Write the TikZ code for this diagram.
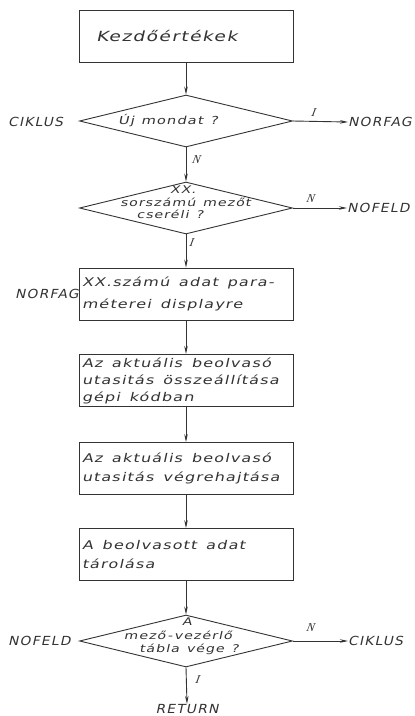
\documentclass[tikz,border=0pt]{standalone}
\usepackage{fontspec}
\setmainfont{DejaVu Sans}[FakeSlant=0.22, FakeStretch=1.33, LetterSpace=10]
\newfontfamily\labelfont{DejaVu Sans}[FakeSlant=0.22, FakeStretch=1.1, LetterSpace=10]
\newfontfamily\serifletter{Liberation Serif}[FakeSlant=0.2]
\usetikzlibrary{shapes.geometric, arrows.meta}

\definecolor{ink}{HTML}{333333}

% one unbreakable line of lettering
\newcommand\letterline[1]{\mbox{#1}}

\tikzset{
  every node/.style={text=ink, font=\fontsize{12}{17}\selectfont},
  flowline/.style={draw=ink, line width=0.9pt},
  flowarrow/.style={flowline, -{Stealth[length=8pt, width=3.5pt]}},
  procbox/.style={draw=ink, line width=0.9pt, rectangle, minimum width=214pt,
    minimum height=52pt, text width=208pt, inner sep=3pt, align=left,
    execute at begin node={\spaceskip=9pt plus 2pt minus 1pt\relax}},
  decision/.style={draw=ink, line width=0.9pt, diamond, minimum width=213pt,
    minimum height=52pt, inner sep=0pt},
  dectext/.style={inner sep=0pt, font=\fontsize{10.6}{12}\selectfont,
    execute at begin node={\spaceskip=7pt plus 2pt minus 1pt\relax}},
  tag/.style={inner sep=0pt, font=\labelfont\fontsize{12.5}{12.5}\selectfont},
  branch/.style={inner sep=0pt, font=\serifletter\itshape\fontsize{12}{12}\selectfont},
}

\begin{document}
\begin{tikzpicture}[x=1pt, y=-1pt]
  \useasboundingbox[fill=white] (0,0) rectangle (415,716);

  % boxes and decisions of the main flow
  \node[procbox, font=\fontsize{14}{17}\selectfont] (start) at (186,36)
    {\hspace{14pt}\letterline{Kezdőértékek}};

  \node[decision] (newsent) at (186,121) {};
  \node[dectext, font=\fontsize{11}{12}\selectfont] (newsent1) at (168,121) {Új mondat ?};

  \node[decision] (swap) at (186,208) {};
  \node[dectext] (swap1) at (183,189.5) {XX.};
  \node[dectext] (swap2) at (185.5,202) {sorszámú mezőt};
  \node[dectext] (swap3) at (170,214.5) {cseréli ?};

  \node[procbox, font=\fontsize{12}{22}\selectfont] (param) at (186,294)
    {\letterline{XX.számú adat para-}\\\letterline{méterei displayre}};
  \node[procbox, font=\fontsize{12}{17}\selectfont] (build) at (186,380.5)
    {\letterline{Az aktuális beolvasó}\\\letterline{utasitás összeállítása}\\\letterline{gépi kódban}};
  \node[procbox, font=\fontsize{12}{19}\selectfont] (exec) at (186,468.5)
    {\letterline{Az aktuális beolvasó}\\\letterline{utasitás végrehajtása}};
  \node[procbox, font=\fontsize{12}{19}\selectfont] (store) at (186,554.5)
    {\letterline{A beolvasott adat}\\\letterline{tárolása}};

  \node[decision] (tabend) at (186,641) {};
  \node[dectext] (tabend1) at (187,622) {A};
  \node[dectext] (tabend2) at (178,635) {mező\,-\,vezérlő};
  \node[dectext] (tabend3) at (189,649) {tábla vége ?};

  % entry and exit labels
  \node[tag, anchor=west] (inciklus) at (8,122) {CIKLUS};
  \node[tag, anchor=west] (outnorfag) at (348,122) {NORFAG};
  \node[tag, anchor=west] (outnofeld) at (347,208) {NOFELD};
  \node[tag, anchor=west] (innorfag) at (15,294) {NORFAG};
  \node[tag, anchor=west] (innofeld) at (8,641) {NOFELD};
  \node[tag, anchor=west] (outciklus) at (348,641) {CIKLUS};
  \node[tag, anchor=north] (ret) at (187,704) {RETURN};

  % connectors
  \draw[flowarrow] (start) -- (newsent.north);
  \draw[flowarrow] (newsent.east) -- (outnorfag.west);
  \draw[flowarrow] (newsent.south) -- (swap.north);
  \draw[flowarrow] (swap.east) -- (outnofeld.west);
  \draw[flowarrow] (swap.south) -- (param.north);
  \draw[flowarrow] (param) -- (build);
  \draw[flowarrow] (build) -- (exec);
  \draw[flowarrow] (exec) -- (store);
  \draw[flowarrow] (store) -- (tabend.north);
  \draw[flowarrow] (tabend.east) -- (outciklus.west);
  \draw[flowarrow] (tabend.south) -- (ret.north);

  % branch letters
  \node[branch] (b1) at (313,113) {I};
  \node[branch] (b2) at (196,160) {N};
  \node[branch] (b3) at (310,199) {N};
  \node[branch] (b4) at (191,243) {I};
  \node[branch] (b5) at (310,628) {N};
  \node[branch] (b6) at (197,680) {I};
\end{tikzpicture}
\end{document}
